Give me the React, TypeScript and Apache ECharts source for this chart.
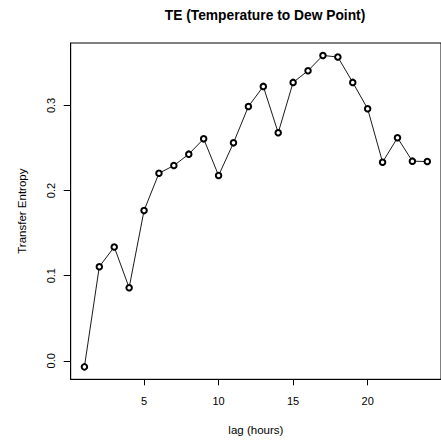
import React, { useEffect, useRef } from "react";
import * as echarts from "echarts";

const lags = [1, 2, 3, 4, 5, 6, 7, 8, 9, 10, 11, 12, 13, 14, 15, 16, 17, 18, 19, 20, 21, 22, 23, 24];
const transferEntropy = [
  -0.0071, 0.1106, 0.1338, 0.0859, 0.1765, 0.2204, 0.2294, 0.2428, 0.2608, 0.2177,
  0.2561, 0.2988, 0.3224, 0.2679, 0.3271, 0.3408, 0.3588, 0.3569, 0.3271, 0.2961,
  0.2334, 0.262, 0.2346, 0.2341,
];
const xTicks = [5, 10, 15, 20];
const yTicks = [0, 0.1, 0.2, 0.3];

const FONT = "'Liberation Sans', Arial, Helvetica, sans-serif";

export default function App() {
  const ref = useRef<HTMLDivElement>(null);
  useEffect(() => {
    if (!ref.current) return;
    const chart = echarts.init(ref.current, null, { renderer: "svg" });
    const xMin = 0.08;
    const xMax = 24.92;
    const yMin = -0.0217;
    const yMax = 0.3734;
    chart.setOption({
      animation: false,
      backgroundColor: "#ffffff",
      textStyle: { fontFamily: FONT },
      title: {
        text: "TE (Temperature to Dew Point)",
        left: 260,
        textAlign: "center",
        top: 3,
        textStyle: { fontFamily: FONT, fontSize: 13.8, fontWeight: "bold", color: "#000" },
      },
      grid: {
        left: 70.7,
        top: 43,
        width: 378.3,
        height: 336.3,
        show: true,
        borderColor: "#000",
        borderWidth: 1,
        backgroundColor: "transparent",
        containLabel: false,
      },
      xAxis: {
        type: "value",
        min: xMin,
        max: xMax,
        name: "lag (hours)",
        nameLocation: "middle",
        nameGap: 45,
        nameTextStyle: { fontFamily: FONT, fontSize: 11.5, color: "#000" },
        axisLine: { show: true, onZero: false, lineStyle: { color: "#000", width: 1 } },
        splitLine: { show: false },
        axisTick: {
          show: true,
          inside: false,
          length: 6,
          customValues: xTicks,
          lineStyle: { color: "#000", width: 1 },
        },
        axisLabel: {
          customValues: xTicks,
          margin: 16,
          fontFamily: FONT,
          fontSize: 11,
          color: "#000",
          formatter: (v: number) => String(v),
        },
      },
      yAxis: {
        type: "value",
        min: yMin,
        max: yMax,
        name: "Transfer Entropy",
        nameLocation: "middle",
        nameGap: 43,
        nameTextStyle: { fontFamily: FONT, fontSize: 11.5, color: "#000" },
        axisLine: { show: true, onZero: false, lineStyle: { color: "#000", width: 1 } },
        splitLine: { show: false },
        axisTick: {
          show: true,
          inside: false,
          length: 7,
          customValues: yTicks,
          lineStyle: { color: "#000", width: 1 },
        },
        axisLabel: {
          customValues: yTicks,
          rotate: 90,
          margin: 14,
          fontFamily: FONT,
          fontSize: 11,
          color: "#000",
          formatter: (v: number) => v.toFixed(1),
        },
      },
      series: [
        {
          type: "line",
          data: lags.map((l, i) => [l, transferEntropy[i]]),
          symbol: "emptyCircle",
          symbolSize: 5.5,
          showSymbol: true,
          lineStyle: { color: "#000", width: 0.9 },
          itemStyle: { color: "#000", borderColor: "#000", borderWidth: 0.7 },
          clip: false,
        },
      ],
    });
    return () => chart.dispose();
  }, []);
  return (
    <div
      ref={ref}
      style={{ position: "absolute", left: 0, top: 0, width: 441, height: 443, background: "#fff" }}
    />
  );
}
